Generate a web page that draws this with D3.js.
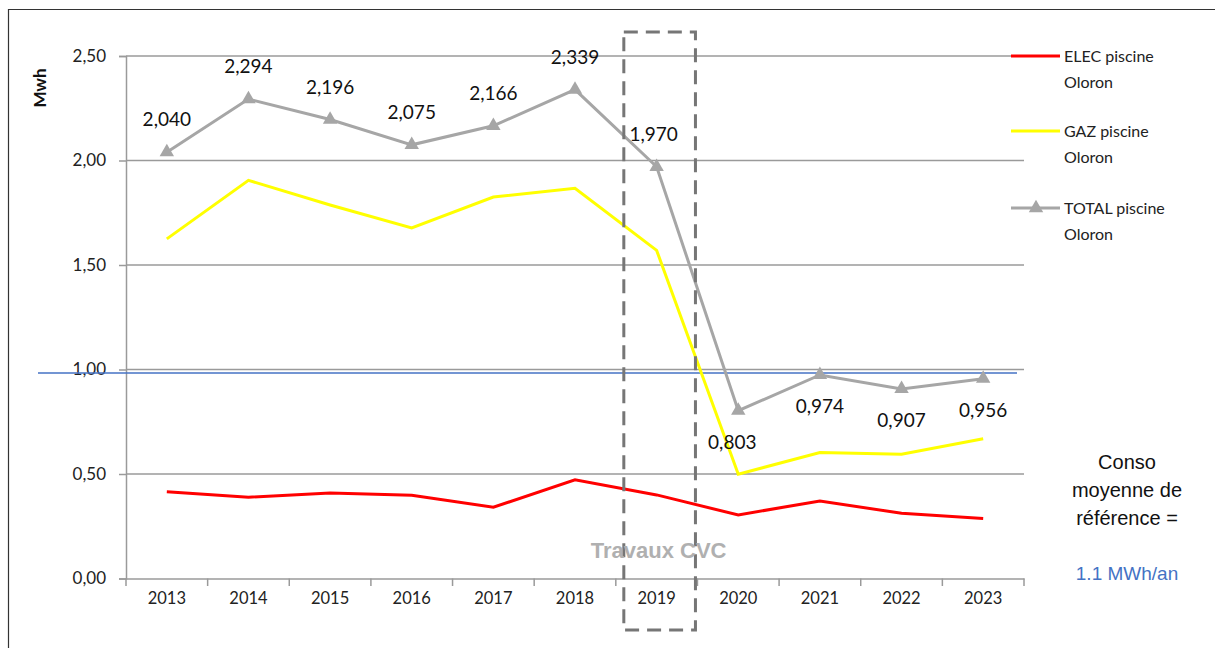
<!DOCTYPE html>
<html>
<head>
<meta charset="utf-8">
<script src="https://cdn.jsdelivr.net/npm/d3@7"></script>
<style>
  body { margin: 0; background: #fff; }
  svg { display: block; }
</style>
</head>
<body>
<svg id="chart" width="1215" height="648"></svg>
<script>
// données
const annees = ["2013", "2014", "2015", "2016", "2017", "2018", "2019", "2020", "2021", "2022", "2023"];
const elec = [0.415, 0.389, 0.409, 0.398, 0.341, 0.472, 0.400, 0.304, 0.371, 0.312, 0.287];
const gaz = [1.625, 1.905, 1.787, 1.677, 1.825, 1.867, 1.570, 0.499, 0.603, 0.595, 0.669];
const total = [2.040, 2.294, 2.196, 2.075, 2.166, 2.339, 1.970, 0.803, 0.974, 0.907, 0.956];
const yTicks = [0, 0.5, 1, 1.5, 2, 2.5];
const reference = 0.983;
const anneeTravaux = "2019";

const fmt = d3.format(".3f");
const virgule = (v, f) => f(v).replace(".", ",");

const svg = d3.select("#chart");
const font = "Lato, 'Open Sans', sans-serif";
const arial = "'Liberation Sans', sans-serif";

// cadre
svg.append("path")
  .attr("d", "M8.5,660 L8.5,9.5 L1230,9.5")
  .attr("fill", "none")
  .attr("stroke", "#333")
  .attr("stroke-width", 1.2);

const x = d3.scaleBand().domain(annees).range([126, 1024]);
const y = d3.scaleLinear().domain([0, 2.5]).range([578.5, 56]);
const cx = d => x(d) + x.bandwidth() / 2;

// grille
svg.append("g")
  .selectAll("line")
  .data(yTicks.filter(t => t > 0))
  .join("line")
  .attr("x1", 126).attr("x2", 1024)
  .attr("y1", d => y(d)).attr("y2", d => y(d))
  .attr("stroke", "#9a9a9a")
  .attr("stroke-width", 1.5);

// axe Y
const axeY = svg.append("g")
  .attr("transform", "translate(126,0)")
  .call(d3.axisLeft(y).tickValues(yTicks).tickSize(7).tickPadding(13)
    .tickFormat(d => d3.format(".2f")(d).replace(".", ",")));
axeY.select(".domain").attr("stroke", "#9a9a9a").attr("stroke-width", 1.5);
axeY.selectAll(".tick line").attr("stroke", "#9a9a9a").attr("stroke-width", 1.5);
axeY.selectAll("text").attr("font-family", font).attr("font-size", 17).attr("fill", "#222");

// axe X
const axeX = svg.append("g")
  .attr("transform", "translate(0,578.5)")
  .call(d3.axisBottom(x).tickSize(0).tickPadding(14));
axeX.select(".domain").attr("stroke", "#9a9a9a").attr("stroke-width", 1.5);
axeX.selectAll("text").attr("font-family", font)
  .attr("font-size", 16.5).attr("fill", "#222")
  .attr("transform", "scale(0.92,1.05)")
  .attr("dy", "0.6em");
axeX.selectAll(".tick text").attr("transform", null).attr("dy", "0.71em");
svg.append("g")
  .selectAll("line")
  .data(annees.concat(["fin"]))
  .join("line")
  .attr("x1", (d, i) => 126 + i * x.step())
  .attr("x2", (d, i) => 126 + i * x.step())
  .attr("y1", 578.5).attr("y2", 586)
  .attr("stroke", "#9a9a9a")
  .attr("stroke-width", 1.5);

// titre axe Y
svg.append("text")
  .attr("transform", "translate(46,88) rotate(-90)")
  .attr("text-anchor", "middle")
  .attr("font-family", font)
  .attr("font-weight", "bold")
  .attr("font-size", 17)
  .attr("fill", "#111")
  .text("Mwh");

// ligne de référence
svg.append("line")
  .attr("x1", 38).attr("x2", 1017)
  .attr("y1", y(reference)).attr("y2", y(reference))
  .attr("stroke", "#4472c4")
  .attr("stroke-width", 1.5);

const ligne = vals => d3.line().x((d, i) => cx(annees[i])).y(d => y(d))(vals);

svg.append("path").attr("d", ligne(elec))
  .attr("fill", "none").attr("stroke", "#ff0000").attr("stroke-width", 3);
svg.append("path").attr("d", ligne(gaz))
  .attr("fill", "none").attr("stroke", "#ffff00").attr("stroke-width", 3);
svg.append("path").attr("d", ligne(total))
  .attr("fill", "none").attr("stroke", "#a6a6a6").attr("stroke-width", 3);

const triangle = d3.symbol().type(d3.symbolTriangle).size(90);
svg.append("g")
  .selectAll("path")
  .data(total)
  .join("path")
  .attr("d", triangle)
  .attr("transform", (d, i) => `translate(${cx(annees[i])},${y(d)})`)
  .attr("fill", "#a6a6a6");

// étiquettes
svg.append("g")
  .selectAll("text")
  .data(total)
  .join("text")
  .attr("x", (d, i) => cx(annees[i]) + (i === 7 ? -6 : (i === 6 ? -3 : 0)))
  .attr("y", (d, i) => i <= 6 ? y(d) - 26 : y(d) + 38)
  .attr("text-anchor", "middle")
  .attr("font-family", font)
  .attr("font-size", 19)
  .attr("fill", "#111")
  .text(d => virgule(d, fmt));

// zone travaux
svg.append("rect")
  .attr("x", x(anneeTravaux) + 8)
  .attr("y", 32)
  .attr("width", x.bandwidth() - 10)
  .attr("height", 598)
  .attr("fill", "none")
  .attr("stroke", "#767676")
  .attr("stroke-width", 3)
  .attr("stroke-dasharray", "14,8");

svg.append("text")
  .attr("x", cx(anneeTravaux) + 2)
  .attr("y", 558)
  .attr("text-anchor", "middle")
  .attr("font-family", arial)
  .attr("font-weight", "bold")
  .attr("font-size", 22)
  .attr("fill", "#b0b0b0")
  .text("Travaux CVC");

// légende
const legende = [
  { nom: "ELEC piscine", couleur: "#ff0000", y: 56, marque: false },
  { nom: "GAZ piscine", couleur: "#ffff00", y: 131, marque: false },
  { nom: "TOTAL piscine", couleur: "#a6a6a6", y: 208, marque: true }
];
const lg = svg.append("g").selectAll("g").data(legende).join("g");
lg.append("line")
  .attr("x1", 1011).attr("x2", 1060)
  .attr("y1", d => d.y).attr("y2", d => d.y)
  .attr("stroke", d => d.couleur).attr("stroke-width", 3);
lg.filter(d => d.marque).append("path")
  .attr("d", triangle)
  .attr("transform", d => `translate(1036,${d.y})`)
  .attr("fill", "#a6a6a6");
lg.append("text")
  .attr("x", 1064).attr("y", d => d.y + 6)
  .attr("font-family", font).attr("font-size", 16).attr("fill", "#222")
  .text(d => d.nom);
lg.append("text")
  .attr("x", 1064).attr("y", d => d.y + 32)
  .attr("font-family", font).attr("font-size", 16).attr("fill", "#222")
  .text("Oloron");

// note de référence
const note = ["Conso", "moyenne de", "référence ="];
svg.append("g")
  .selectAll("text")
  .data(note)
  .join("text")
  .attr("x", 1127)
  .attr("y", (d, i) => 469 + i * 28)
  .attr("text-anchor", "middle")
  .attr("font-family", arial)
  .attr("font-size", 20)
  .attr("fill", "#111")
  .text(d => d);
svg.append("text")
  .attr("x", 1127).attr("y", 580)
  .attr("text-anchor", "middle")
  .attr("font-family", arial)
  .attr("font-size", 19)
  .attr("fill", "#4472c4")
  .text("1.1 MWh/an");
</script>
</body>
</html>
